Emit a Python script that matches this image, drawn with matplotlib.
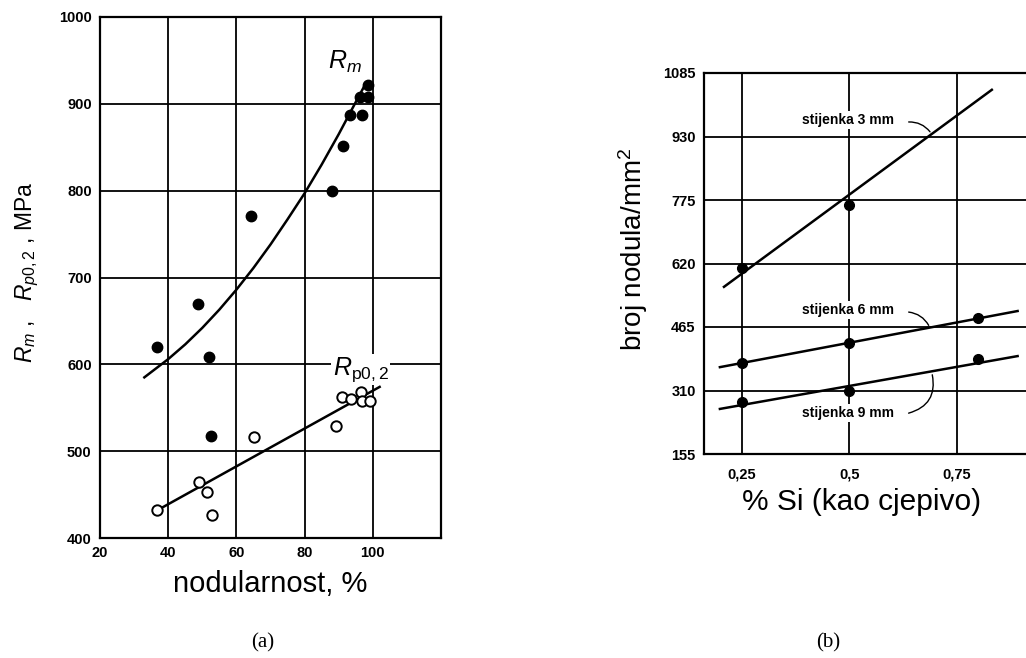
import matplotlib
matplotlib.use("Agg")
import matplotlib.pyplot as plt
from matplotlib.font_manager import FontProperties

plt.rcParams['font.family'] = ['Liberation Sans', 'DejaVu Sans']
plt.rcParams['mathtext.fontset'] = 'custom'
plt.rcParams['mathtext.rm'] = 'Liberation Sans'
plt.rcParams['mathtext.it'] = 'Liberation Sans:italic'

# ---- (a) data ----
rm_x = [98.6, 96.2, 98.6, 93.3, 96.8, 91.3, 88.0, 64.2, 48.8, 36.7, 52.0, 52.5]
rm_y = [922, 908, 908, 887, 887, 851, 800, 771, 670, 620, 608, 517]
rp_x = [36.7, 49.0, 51.4, 52.8, 65.2, 89.2, 90.9, 93.5, 96.5, 96.7, 99.3]
rp_y = [432, 464, 453, 427, 516, 529, 562, 560, 568, 558, 558]
rm_curve_x = [33, 40, 45, 50, 55, 60, 65, 70, 75, 80, 85, 90, 95, 98]
rm_curve_y = [585, 606, 623, 642, 663, 686, 711, 738, 767, 797, 830, 865, 902, 924]
rp_line_x = [38.2, 102]
rp_line_y = [435, 574]
a_xticks = [20, 40, 60, 80, 100, 120]
a_xticklabels = ['20', '40', '60', '80', '100', '']
a_yticks = [400, 500, 600, 700, 800, 900, 1000]

# ---- (b) data ----
si_pts = [0.25, 0.5, 0.8]
n3_pts = [609, 763]
n6_pts = [377, 426, 487]
n9_pts = [282, 309, 387]
l3_x, l3_y = [0.2085, 0.832], [563, 1044]
l6_x, l6_y = [0.199, 0.892], [367, 504]
l9_x, l9_y = [0.199, 0.892], [265, 394]
b_xticks = [0.25, 0.5, 0.75, 1.0]
b_xticklabels = ['0,25', '0,5', '0,75', '']
b_yticks = [155, 310, 465, 620, 775, 930, 1085]

fig = plt.figure(figsize=(10.26, 6.58), dpi=100)

tick_fp = FontProperties(family=['Liberation Sans Narrow', 'Liberation Sans'],
                         weight='bold', size=10.5)

def style(ax, xpad=6):
    for s in ax.spines.values():
        s.set_linewidth(1.6)
        s.set_color('black')
    ax.grid(True, color='black', linewidth=1.3)
    ax.set_axisbelow(True)
    ax.tick_params(length=0, pad=6)
    ax.tick_params(axis='x', pad=xpad)
    for lbl in ax.get_xticklabels() + ax.get_yticklabels():
        lbl.set_fontproperties(tick_fp)

# ---------- (a) ----------
ax1 = fig.add_axes([100/1026, (658-538)/658, 341/1026, 521/658])
ax1.set_xlim(20, 120)
ax1.set_ylim(400, 1000)
ax1.set_xticks(a_xticks)
ax1.set_xticklabels(a_xticklabels)
ax1.set_yticks(a_yticks)
style(ax1)
ax1.plot(rm_curve_x, rm_curve_y, color='black', lw=1.8, zorder=3)
ax1.plot(rp_line_x, rp_line_y, color='black', lw=1.8, zorder=3)
ax1.plot(rm_x, rm_y, 'o', color='black', ms=7.5, zorder=4)
ax1.plot(rp_x, rp_y, 'o', mfc='white', mec='black', mew=1.4, ms=7.5, zorder=4)
ax1.text(91.8, 948, r'$R_{m}$', fontsize=18, ha='center', va='center', zorder=5)
ax1.text(96.5, 594, r'$R_{\mathrm{p0,2}}$', fontsize=18, ha='center', va='center', zorder=5,
         bbox=dict(facecolor='white', edgecolor='none', pad=1))
ax1.set_xlabel('nodularnost, %', fontsize=21)
ax1.xaxis.set_label_coords(0.5, -(584-538)/521)
ax1.xaxis.label.set_va('center')
ax1.set_ylabel(r'$R_{m}$ ,   $R_{p0,2}$ , MPa', fontsize=16.5)
ax1.yaxis.set_label_coords(-(100-27)/341, (538-272)/521)
ax1.yaxis.label.set_va('center')
fig.text(263/1026, 1-643/658, '(a)', family='Liberation Serif', fontsize=15,
         ha='center', va='center')

# ---------- (b) ----------
ax2 = fig.add_axes([704/1026, (658-454)/658, 360/1026, 381/658])
ax2.set_xlim(0.162, 1.0)
ax2.set_ylim(155, 1085)
ax2.set_xticks(b_xticks)
ax2.set_xticklabels(b_xticklabels)
ax2.set_yticks(b_yticks)
style(ax2, xpad=10)
for lx, ly in [(l3_x, l3_y), (l6_x, l6_y), (l9_x, l9_y)]:
    ax2.plot(lx, ly, color='black', lw=1.8, zorder=3)
ax2.plot(si_pts[:2], n3_pts, 'o', color='black', ms=7, zorder=4)
ax2.plot(si_pts, n6_pts, 'o', color='black', ms=7, zorder=4)
ax2.plot(si_pts, n9_pts, 'o', color='black', ms=7, zorder=4)

ann_font = dict(fontsize=10, fontweight='bold', ha='center', va='center', zorder=5)
box = dict(facecolor='white', edgecolor='none', pad=1.5)
ax2.text(0.497, 970, 'stijenka 3 mm', bbox=box, **ann_font)
ax2.text(0.497, 506, 'stijenka 6 mm', bbox=box, **ann_font)
ax2.text(0.497, 255, 'stijenka 9 mm', bbox=box, **ann_font)
ax2.annotate('', xy=(0.692, 936), xytext=(0.632, 965),
             arrowprops=dict(arrowstyle='-', lw=1.0, connectionstyle='arc3,rad=-0.3'), zorder=5)
ax2.annotate('', xy=(0.688, 463), xytext=(0.632, 502),
             arrowprops=dict(arrowstyle='-', lw=1.0, connectionstyle='arc3,rad=-0.3'), zorder=5)
ax2.annotate('', xy=(0.692, 355), xytext=(0.632, 253),
             arrowprops=dict(arrowstyle='-', lw=1.0, connectionstyle='arc3,rad=0.5'), zorder=5)
ax2.set_xlabel('% Si (kao cjepivo)', fontsize=21.5)
ax2.xaxis.set_label_coords((862-704)/360, -(502-454)/381)
ax2.xaxis.label.set_va('center')
ax2.set_ylabel('broj nodula/mm$^2$', fontsize=20)
ax2.yaxis.set_label_coords(-(704-633)/360, (454-249)/381)
ax2.yaxis.label.set_va('center')
fig.text(828/1026, 1-643/658, '(b)', family='Liberation Serif', fontsize=15,
         ha='center', va='center')

fig.savefig('out.png', dpi=100)
